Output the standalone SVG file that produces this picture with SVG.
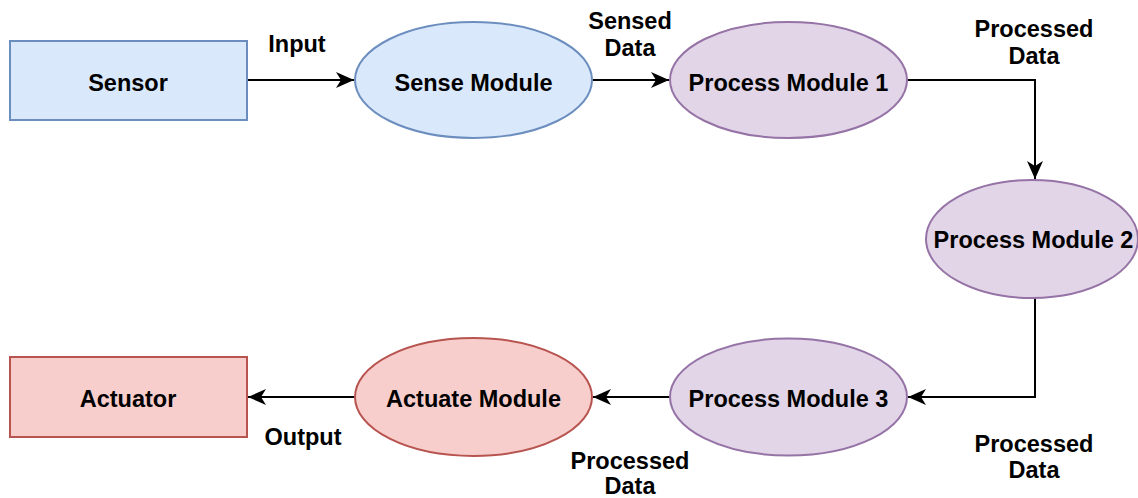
<svg xmlns="http://www.w3.org/2000/svg" width="1138" height="498" viewBox="0 0 1138 498">
  <style>
    text { font-family: "Liberation Sans", Arial, sans-serif; font-weight: bold; font-size: 23.5px; fill: #000; text-anchor: middle; }
    .blue { fill: #dae8fc; stroke: #6c8ebf; stroke-width: 2; }
    .purple { fill: #e1d5e7; stroke: #9673a6; stroke-width: 2; }
    .red { fill: #f8cecc; stroke: #b85450; stroke-width: 2; }
    .edge { fill: none; stroke: #000; stroke-width: 2; }
  </style>
  <defs>
    <marker id="arrow" markerUnits="userSpaceOnUse" markerWidth="22" markerHeight="20" viewBox="-20 -10 22 20" refX="0" refY="0" orient="auto">
      <path d="M0,0 L-18,-8 L-13,0 L-18,8 Z" fill="#000"/>
    </marker>
  </defs>
  <rect width="1138" height="498" fill="#fff"/>

  <!-- connectors and their labels -->
  <g id="connectors">
    <path class="edge" d="M247,80 H354" marker-end="url(#arrow)"/>
    <path class="edge" d="M592,80 H669" marker-end="url(#arrow)"/>
    <path class="edge" d="M907,80 H1035 V179" marker-end="url(#arrow)"/>
    <path class="edge" d="M1035,298 V397 H908" marker-end="url(#arrow)"/>
    <path class="edge" d="M670,397 H593" marker-end="url(#arrow)"/>
    <path class="edge" d="M355,397 H248" marker-end="url(#arrow)"/>
    <text x="297" y="52">Input</text>
    <text x="630" y="29">Sensed</text>
    <text x="630" y="56">Data</text>
    <text x="1034" y="37">Processed</text>
    <text x="1034" y="64">Data</text>
    <text x="1034" y="452">Processed</text>
    <text x="1034" y="478">Data</text>
    <text x="630" y="469">Processed</text>
    <text x="630" y="494">Data</text>
    <text x="303" y="445">Output</text>
  </g>

  <g id="sensor">
    <rect class="blue" x="10" y="41" width="237" height="79"/>
    <text x="128" y="91">Sensor</text>
  </g>
  <g id="sense-module">
    <ellipse class="blue" cx="473.5" cy="80" rx="118.5" ry="58"/>
    <text x="473.5" y="90.5">Sense Module</text>
  </g>
  <g id="process-module-1">
    <ellipse class="purple" cx="788.5" cy="80" rx="118.5" ry="58"/>
    <text x="788.5" y="90.5">Process Module 1</text>
  </g>
  <g id="process-module-2">
    <ellipse class="purple" cx="1032" cy="239" rx="106" ry="59"/>
    <text x="1033.5" y="248">Process Module 2</text>
  </g>
  <g id="process-module-3">
    <ellipse class="purple" cx="788.5" cy="397" rx="118.5" ry="58.5"/>
    <text x="788.5" y="407">Process Module 3</text>
  </g>
  <g id="actuate-module">
    <ellipse class="red" cx="473.5" cy="397" rx="118.5" ry="59"/>
    <text x="473.5" y="407">Actuate Module</text>
  </g>
  <g id="actuator">
    <rect class="red" x="10" y="357" width="237" height="80"/>
    <text x="128" y="407">Actuator</text>
  </g>
</svg>
